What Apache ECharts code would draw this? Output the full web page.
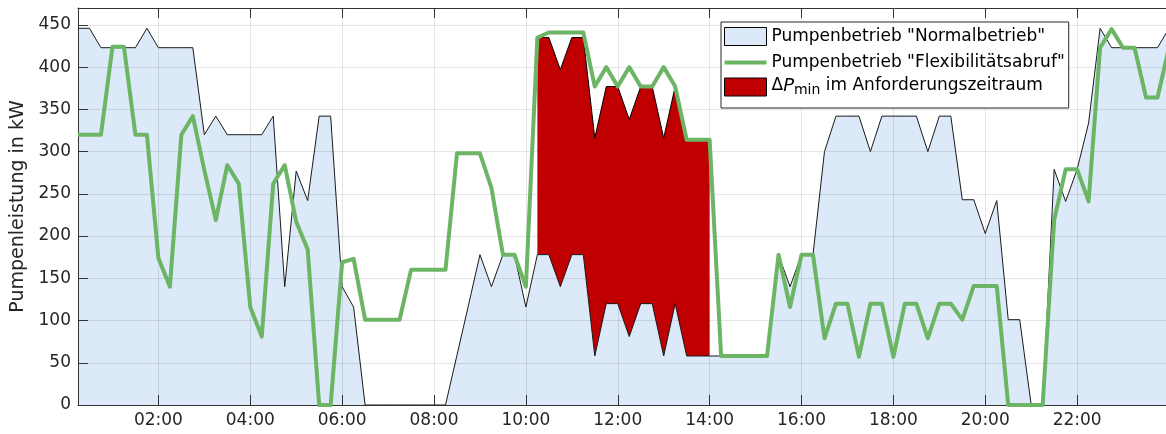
<!DOCTYPE html>
<html>
<head>
<meta charset="utf-8">
<script src="https://cdn.jsdelivr.net/npm/echarts@6/dist/echarts.min.js"></script>
<style>
  html, body { margin: 0; padding: 0; background: #fff; }
  #chart { width: 1166px; height: 434px; }
</style>
</head>
<body>
<div id="chart"></div>
<script>
// 15-Minuten-Raster 00:15 ... 24:00
var times = []
for (var i = 1; i <= 96; i++) {
  var h = Math.floor(i / 4), m = (i % 4) * 15
  times.push((h < 10 ? '0' : '') + h + ':' + (m < 10 ? '0' : '') + m)
}
var xTickLabels = ['02:00', '04:00', '06:00', '08:00', '10:00', '12:00',
  '14:00', '16:00', '18:00', '20:00', '22:00']

// Pumpenbetrieb "Normalbetrieb" in kW
var normal = [
  446, 446, 423, 423, 423, 423, 446, 423, 423, 423, 423, 320,
  342, 320, 320, 320, 320, 342, 140, 277, 242, 342, 342, 140,
  116, 0, 0, 0, 0, 0, 0, 0, 0, 59, 118, 178,
  140, 178, 178, 116, 178, 178, 140, 178, 178, 58, 120, 120,
  81, 120, 120, 58, 120, 58, 58, 58, 58, 58, 58, 58,
  58, 178, 140, 178, 178, 300, 342, 342, 342, 300, 342, 342,
  342, 342, 300, 342, 342, 243, 243, 203, 242, 101, 101, 0,
  0, 279, 241, 279, 334, 446, 423, 423, 423, 423, 423, 446
]
// Pumpenbetrieb "Flexibilitätsabruf" in kW
var flex = [
  320, 320, 320, 424, 424, 320, 320, 174, 140, 320, 342, 278,
  219, 284, 262, 116, 81, 262, 284, 217, 184, 0, 0, 169,
  173, 101, 101, 101, 101, 160, 160, 160, 160, 298, 298, 298,
  257, 178, 178, 140, 435, 441, 441, 441, 441, 377, 400, 377,
  400, 377, 377, 400, 377, 314, 314, 314, 58, 58, 58, 58,
  58, 178, 116, 178, 178, 79, 120, 120, 57, 120, 120, 57,
  120, 120, 79, 120, 120, 101, 141, 141, 141, 0, 0, 0,
  0, 219, 279, 279, 241, 423, 445, 423, 423, 364, 364, 423
]
// Obere Kante von Delta P_min im Anforderungszeitraum (10:15 ... 14:00)
var dpStart = '10:15'
var dpUpper = [435, 435, 397, 435, 435, 316, 377, 377, 338, 377, 377, 316, 377, 315, 315, 315]

var FONT = 'DejaVu Sans'
var GREEN = '#6cb564'
var nameNormal = 'Pumpenbetrieb "Normalbetrieb"'
var nameFlex = 'Pumpenbetrieb "Flexibilitätsabruf"'
var nameDp = 'dPmin'

var i0 = times.indexOf(dpStart)
var dpBase = times.map(function (t, k) {
  return (k >= i0 && k < i0 + dpUpper.length) ? normal[k] : '-'
})
var dpDelta = times.map(function (t, k) {
  return (k >= i0 && k < i0 + dpUpper.length) ? dpUpper[k - i0] - normal[k] : '-'
})

function showTick(index, value) {
  return xTickLabels.indexOf(value) >= 0
}

var axisColor = '#333'
var option = {
  animation: false,
  grid: { left: 78, top: 8, width: 1091, height: 397, outerBoundsMode: 'none', containLabel: false },
  legend: {
    orient: 'vertical',
    left: 721,
    top: 22,
    padding: [3, 4, 2, 3],
    itemWidth: 42,
    itemHeight: 18,
    itemGap: 3,
    backgroundColor: '#fff',
    borderColor: '#262626',
    borderWidth: 1,
    borderRadius: 0,
    selectedMode: false,
    textStyle: { fontFamily: FONT, fontSize: 17, color: '#000', lineHeight: 23,
      rich: {
        a: { fontFamily: FONT, fontSize: 17, lineHeight: 20, verticalAlign: 'top', color: '#000' },
        p: { fontFamily: FONT, fontSize: 18, lineHeight: 20, verticalAlign: 'top', fontStyle: 'italic', color: '#000' },
        s: { fontFamily: FONT, fontSize: 14, lineHeight: 16, verticalAlign: 'bottom', padding: [0, 0, 0, 0], color: '#000' },
        t: { fontFamily: FONT, fontSize: 17, lineHeight: 20, verticalAlign: 'top', padding: [0, 0, 12, 0], color: '#000' }
      }
    },
    formatter: function (name) {
      if (name === nameDp) return '{a|Δ}{p|P}{s|min}{t| im Anforderungszeitraum}'
      return name
    },
    data: [
      { name: nameNormal, icon: 'rect', itemStyle: { color: '#dce9f8', borderColor: '#000', borderWidth: 1 } },
      { name: nameFlex, icon: 'path://M0,0 L42,0 L42,4 L0,4 Z', itemStyle: { color: GREEN, borderWidth: 0 } },
      { name: nameDp, icon: 'rect', itemStyle: { color: '#c00000', borderColor: '#000', borderWidth: 1 } }
    ]
  },
  xAxis: [
    {
      type: 'category',
      data: times,
      boundaryGap: false,
      z: 2,
      axisLine: { show: true, lineStyle: { color: axisColor, width: 1 } },
      axisTick: { show: true, inside: true, length: 10, interval: showTick, lineStyle: { color: axisColor } },
      axisLabel: { interval: showTick, margin: 7, fontFamily: FONT, fontSize: 17, color: '#262626' },
      splitLine: { show: true, interval: showTick, lineStyle: { color: 'rgba(0,0,0,0.1)', width: 1 } }
    },
    {
      type: 'category',
      data: times,
      boundaryGap: false,
      position: 'top',
      z: 2,
      axisLine: { show: true, lineStyle: { color: axisColor, width: 1 } },
      axisTick: { show: true, inside: true, length: 10, interval: showTick, lineStyle: { color: axisColor } },
      axisLabel: { show: false },
      splitLine: { show: false }
    }
  ],
  yAxis: {
    type: 'value',
    min: 0,
    max: 470,
    interval: 50,
    z: 2,
    name: 'Pumpenleistung in kW',
    nameLocation: 'middle',
    nameGap: 47,
    nameTextStyle: { fontFamily: FONT, fontSize: 19, color: '#262626' },
    axisLine: { show: true, lineStyle: { color: axisColor, width: 1 } },
    axisTick: { show: true, inside: true, length: 10, lineStyle: { color: axisColor } },
    axisLabel: { margin: 7, fontFamily: FONT, fontSize: 17, color: '#262626', showMaxLabel: false },
    splitLine: { show: true, lineStyle: { color: 'rgba(0,0,0,0.1)', width: 1 } }
  },
  series: [
    {
      // Flaeche Normalbetrieb (unter dem Raster)
      name: nameNormal,
      type: 'line',
      data: normal,
      z: 1,
      symbol: 'none',
      lineStyle: { width: 0, opacity: 0 },
      areaStyle: { color: '#dce9f8', opacity: 1 },
      silent: true
    },
    {
      name: 'base',
      type: 'line',
      data: dpBase,
      stack: 'dp',
      z: 3,
      symbol: 'none',
      lineStyle: { width: 0, opacity: 0 },
      silent: true
    },
    {
      name: nameDp,
      type: 'line',
      data: dpDelta,
      stack: 'dp',
      z: 3,
      symbol: 'none',
      lineStyle: { color: '#000', width: 1 },
      itemStyle: { color: '#c00000' },
      areaStyle: { color: '#c00000', opacity: 1 },
      silent: true
    },
    {
      // Linie Normalbetrieb
      name: nameNormal,
      type: 'line',
      data: normal,
      z: 4,
      symbol: 'none',
      lineStyle: { color: '#1a1a1a', width: 1 },
      itemStyle: { color: '#dce9f8' },
      silent: true
    },
    {
      name: nameFlex,
      type: 'line',
      data: flex,
      z: 5,
      symbol: 'none',
      lineStyle: { color: GREEN, width: 4, join: 'round' },
      itemStyle: { color: GREEN },
      silent: true
    }
  ]
}

var chart = echarts.init(document.getElementById('chart'))
chart.setOption(option)
window.addEventListener('resize', function () { chart.resize() })
</script>
</body>
</html>
